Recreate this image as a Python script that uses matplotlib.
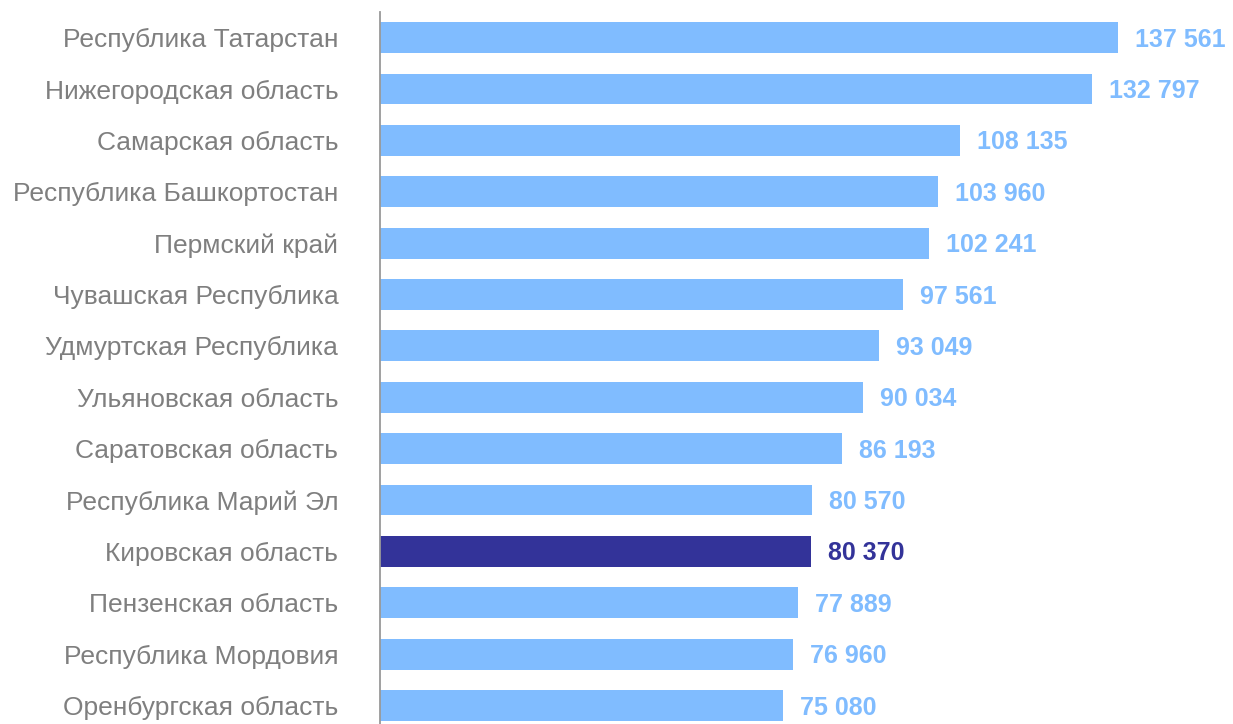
import matplotlib
matplotlib.use("Agg")
import matplotlib.pyplot as plt
import numpy as np

# data
regions = [
    "Республика Татарстан", "Нижегородская область", "Самарская область",
    "Республика Башкортостан", "Пермский край", "Чувашская Республика",
    "Удмуртская Республика", "Ульяновская область", "Саратовская область",
    "Республика Марий Эл", "Кировская область", "Пензенская область",
    "Республика Мордовия", "Оренбургская область",
]
values = [137561, 132797, 108135, 103960, 102241, 97561, 93049,
          90034, 86193, 80570, 80370, 77889, 76960, 75080]
highlight = "Кировская область"

_LIGHT = "#80BCFF"
_DARK = "#333399"
_GRAY = "#7F7F7F"

plt.rcParams["font.family"] = ["Liberation Sans", "DejaVu Sans"]

fig = plt.figure(figsize=(12.33, 7.24), dpi=100)
ax = fig.add_axes([380 / 1233, 0, 1 - 380 / 1233, 1 - 12 / 724])

y = np.arange(len(regions))
colors = [_DARK if r == highlight else _LIGHT for r in regions]
bars = ax.barh(y, values, height=0.6, color=colors, edgecolor="none")

ax.set_xlim(0, 159000)
ax.set_ylim(13.36, -0.5)

for bar, val, c in zip(bars, values, colors):
    ax.annotate(f"{val:,}".replace(",", " "),
                (bar.get_width(), bar.get_y() + bar.get_height() / 2),
                xytext=(17, -2), textcoords="offset pixels",
                ha="left", va="center", fontsize=18, fontweight="bold",
                color=c)

ax.set_yticks(y)
ax.set_yticklabels(regions, fontsize=19, color=_GRAY)
ax.tick_params(axis="y", length=0, pad=30)
ax.set_xticks([])
for s in ["top", "right", "bottom"]:
    ax.spines[s].set_visible(False)
ax.spines["left"].set_color("#999999")
ax.spines["left"].set_linewidth(1.3)

fig.savefig("out.png", dpi=100)
